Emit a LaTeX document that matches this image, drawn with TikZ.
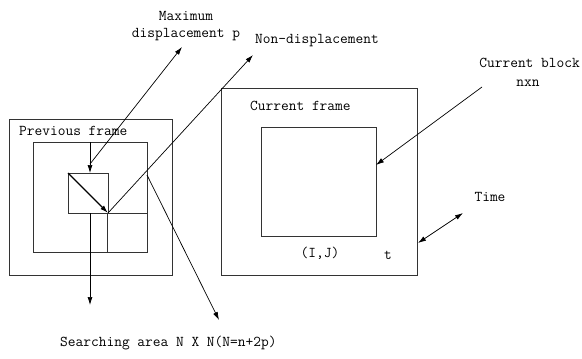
\documentclass[tikz,border=0pt]{standalone}
\usetikzlibrary{arrows.meta}
\begin{document}
\begin{tikzpicture}[x=1pt,y=-1pt,
  frame/.style={draw=black!80,line width=0.8pt,minimum width=#1,inner sep=0pt,outer sep=0pt},
  lbl/.style={font=\fontsize{15}{17}\selectfont\ttfamily,inner sep=0pt},
  arr/.style={line width=0.7pt,-{Latex[length=8pt,width=5pt]}},
  darr/.style={line width=0.7pt,{Latex[length=8pt,width=5pt]}-{Latex[length=8pt,width=5pt]}}]
\useasboundingbox (0,0) rectangle (582,359);
% previous frame side
\node[frame=163pt,minimum height=156pt] (prev) at (90.5,197) {};
\node[frame=114pt,minimum height=110pt] (search) at (90,197) {};
\node[frame=40pt,minimum height=40pt] (block) at (88,193) {};
\node[frame=40pt,minimum height=39pt] (lowblock) at (127,232.5) {};
% current frame side
\node[frame=196pt,minimum height=187pt] (cur) at (319,181.5) {};
\node[frame=115pt,minimum height=109pt] (cblock) at (318.5,181.5) {};
% labels
\node[lbl,anchor=west] (tprev) at (19,131) {Previous frame};
\node[lbl] (tmax) at (186,16) {Maximum};
\node[lbl] (tdisp) at (186,35) {displacement p};
\node[lbl,anchor=west] (tnon) at (255,41) {Non-displacement};
\node[lbl,anchor=west] (tcur) at (250,106) {Current frame};
\node[lbl,anchor=east] (tcb) at (580,63) {Current block};
\node[lbl] (tnxn) at (528,83) {nxn};
\node[lbl] (tij) at (320,253) {(I,J)};
\node[lbl] (tt) at (388,255) {t};
\node[lbl] (ttime) at (490,197) {Time};
\node[lbl,anchor=west] (tsearch) at (60,343) {Searching area N X N(N=n+2p)};
% coordinates for arrow ends
\coordinate (vtop) at (90,142);
\coordinate (vbot) at (90,173);
\coordinate (mstart) at (90,164);
\coordinate (mend) at (182,47);
\coordinate (nend) at (253,55);
\coordinate (sstart) at (147,175);
\coordinate (send) at (219,320);
\coordinate (dstart) at (90,213);
\coordinate (dend) at (90,305);
\coordinate (cbstart) at (482,87);
\coordinate (cbend) at (376,165);
\coordinate (t1) at (418,243);
\coordinate (t2) at (463,213);
% arrows
\draw[arr,line width=1.3pt] (block.north west) -- (block.south east);
\draw[arr] (vtop) -- (vbot);
\draw[arr] (mstart) -- (mend);
\draw[arr] (block.south east) -- (nend);
\draw[arr] (sstart) -- (send);
\draw[arr] (dstart) -- (dend);
\draw[arr] (cbstart) -- (cbend);
\draw[darr] (t1) -- (t2);
\end{tikzpicture}
\end{document}
